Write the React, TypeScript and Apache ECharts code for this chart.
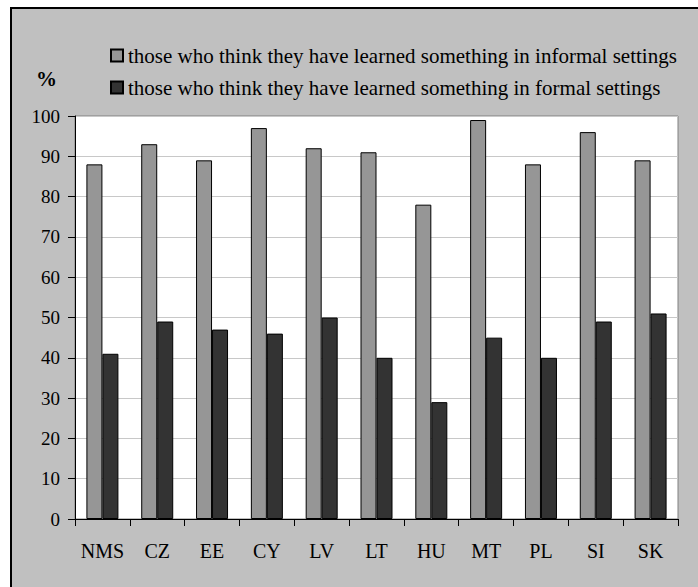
import React, { useEffect, useRef } from "react";
import * as echarts from "echarts";

const categories = ["NMS", "CZ", "EE", "CY", "LV", "LT", "HU", "MT", "PL", "SI", "SK"];
const informalValues = [88, 93, 89, 97, 92, 91, 78, 99, 88, 96, 89];
const formalValues = [41, 49, 47, 46, 50, 40, 29, 45, 40, 49, 51];
const seriesNames = [
  "those who think they have learned something in informal settings",
  "those who think they have learned something in formal settings",
];
const yAxisUnit = "%";

const FONT = "Liberation Serif";

export default function App() {
  const ref = useRef<HTMLDivElement>(null);
  useEffect(() => {
    if (!ref.current) return;
    const chart = echarts.init(ref.current, null, { renderer: "svg" });
    chart.setOption({
      animation: false,
      textStyle: { fontFamily: FONT },
      graphic: [
        {
          type: "rect",
          z: -100,
          shape: { x: 11, y: 8, width: 720, height: 620 },
          style: { fill: "#c0c0c0", stroke: "#000", lineWidth: 2 },
        },
        {
          type: "text",
          left: 36,
          top: 68,
          style: {
            text: yAxisUnit,
            fontFamily: FONT,
            fontSize: 21,
            fontWeight: "bold",
            fill: "#000",
          },
        },
      ],
      legend: {
        orient: "vertical",
        left: 110,
        top: 45,
        itemWidth: 12,
        itemHeight: 12,
        itemGap: 11,
        padding: 0,
        icon: "rect",
        textStyle: { fontFamily: FONT, fontSize: 21, color: "#000" },
        data: seriesNames,
      },
      grid: {
        left: 75,
        right: 20,
        top: 116,
        bottom: 68,
        show: true,
        backgroundColor: "#ffffff",
        borderColor: "#808080",
        borderWidth: 1,
      },
      xAxis: {
        type: "category",
        data: categories,
        axisLine: { lineStyle: { color: "#000", width: 1 } },
        axisTick: { show: true, alignWithLabel: false, length: 7, interval: 0, lineStyle: { color: "#000" } },
        axisLabel: { interval: 0, margin: 22, fontFamily: FONT, fontSize: 20, color: "#000" },
      },
      yAxis: {
        type: "value",
        min: 0,
        max: 100,
        interval: 10,
        axisLine: { show: true, lineStyle: { color: "#000", width: 1 } },
        axisTick: { show: true, length: 7, lineStyle: { color: "#000" } },
        axisLabel: { margin: 15, fontFamily: FONT, fontSize: 19, color: "#000" },
        splitLine: { show: true, lineStyle: { color: "#c8c8c8", width: 1 } },
      },
      series: [
        {
          name: seriesNames[0],
          type: "bar",
          data: informalValues,
          barWidth: 16,
          barGap: "0%",
          itemStyle: { color: "#969696", borderColor: "#000", borderWidth: 1 },
        },
        {
          name: seriesNames[1],
          type: "bar",
          data: formalValues,
          barWidth: 16,
          barGap: "0%",
          itemStyle: { color: "#333333", borderColor: "#000", borderWidth: 1 },
        },
      ],
    });
    return () => chart.dispose();
  }, []);
  return (
    <div style={{ position: "fixed", left: 0, top: 0, width: 698, height: 587, background: "#fff" }}>
      <div ref={ref} style={{ width: 698, height: 587 }} />
    </div>
  );
}
